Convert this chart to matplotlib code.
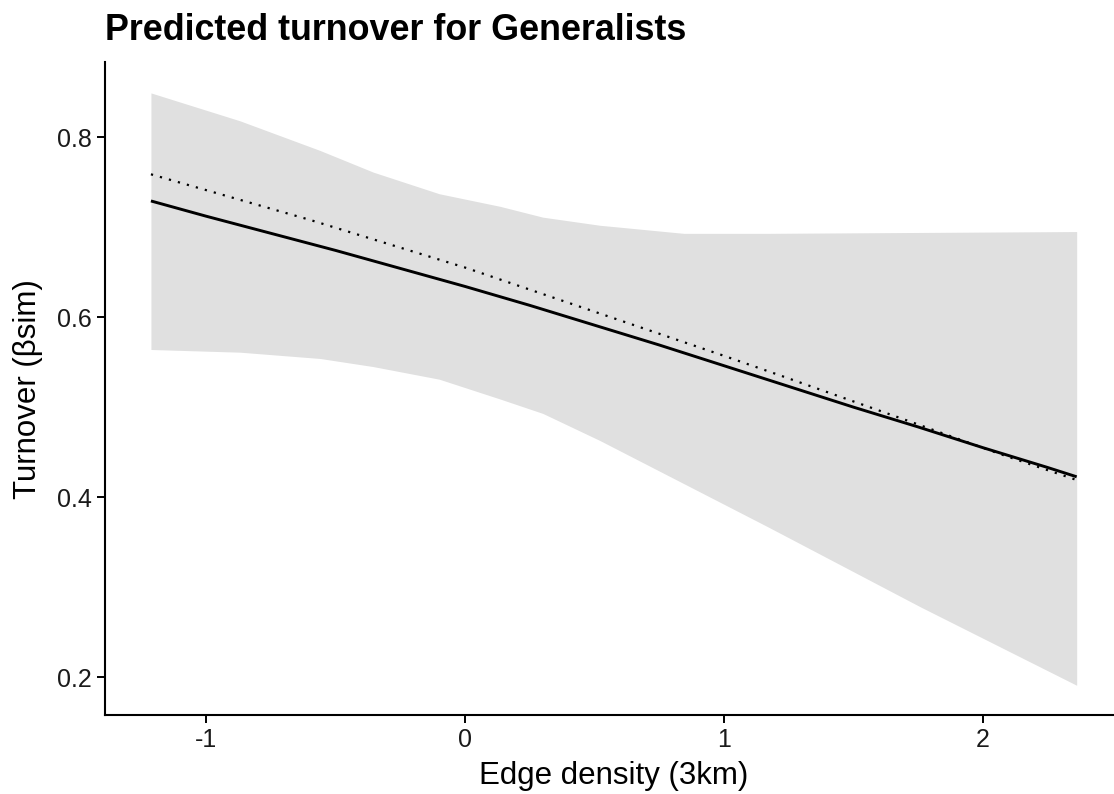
import numpy as np
import matplotlib
matplotlib.use("Agg")
import matplotlib.pyplot as plt

plt.rcParams['font.family'] = ['Liberation Sans', 'DejaVu Sans']

# ribbon (95% interval)
band_x = [-1.214, -0.87, -0.56, -0.355, -0.10, 0.135, 0.30, 0.52, 0.845, 1.17, 1.76, 2.363]
band_hi = [0.849, 0.818, 0.785, 0.761, 0.737, 0.723, 0.711, 0.702, 0.693, 0.693, 0.694, 0.695]
band_lo = [0.564, 0.561, 0.554, 0.545, 0.531, 0.509, 0.493, 0.463, 0.415, 0.367, 0.278, 0.191]

# predicted turnover (solid)
pred_x = [-1.214, -1.0, -0.75, -0.5, -0.25, 0.0, 0.25, 0.5, 0.75, 1.0, 1.25,
          1.5, 1.75, 2.0, 2.25, 2.363]
pred_y = [0.729, 0.712, 0.693, 0.674, 0.654, 0.634, 0.613, 0.591, 0.569, 0.546,
          0.523, 0.500, 0.478, 0.455, 0.433, 0.4226]

# dotted line
dot_x = [-1.214, -0.6, 0.0, 0.5, 1.0, 1.229, 1.68, 2.066, 2.363]
dot_y = [0.7586, 0.708, 0.655, 0.606, 0.557, 0.534, 0.488, 0.448, 0.419]

fig = plt.figure(figsize=(11.14, 7.94), dpi=100)
ax = fig.add_axes([104.6 / 1114, 1 - 715 / 794, (1123 - 104.6) / 1114, (715 - 62.3) / 794])

ax.fill_between(band_x, band_lo, band_hi, color="#e0e0e0", linewidth=0)
ax.plot(dot_x, dot_y, color="black", linewidth=1.6, linestyle=(0, (1, 3.2)))
ax.plot(pred_x, pred_y, color="black", linewidth=2.1, solid_capstyle="butt")

ax.set_xlim(-1.393, 2.542)
ax.set_ylim(0.158, 0.883)
ax.set_xticks([-1, 0, 1, 2])
ax.set_xticklabels(["-1", "0", "1", "2"])
ax.set_yticks([0.2, 0.4, 0.6, 0.8])
ax.set_yticklabels(["0.2", "0.4", "0.6", "0.8"])

for s in ["top", "right"]:
    ax.spines[s].set_visible(False)
for s in ["left", "bottom"]:
    ax.spines[s].set_linewidth(1.5)
    ax.spines[s].set_color("black")
ax.tick_params(axis="both", length=5.5, width=1.4, color="black",
               labelsize=18, labelcolor="#1a1a1a", pad=4)

ax.set_xlabel("Edge density (3km)", fontsize=22.5, labelpad=6)
ax.set_ylabel("Turnover (\u03b2sim)", fontsize=22.5, labelpad=10)

fig.text(105 / 1114, 1 - 39.5 / 794, "Predicted turnover for Generalists",
         fontsize=25.8, fontweight="bold", ha="left", va="baseline")

fig.savefig("out.png", dpi=100)
